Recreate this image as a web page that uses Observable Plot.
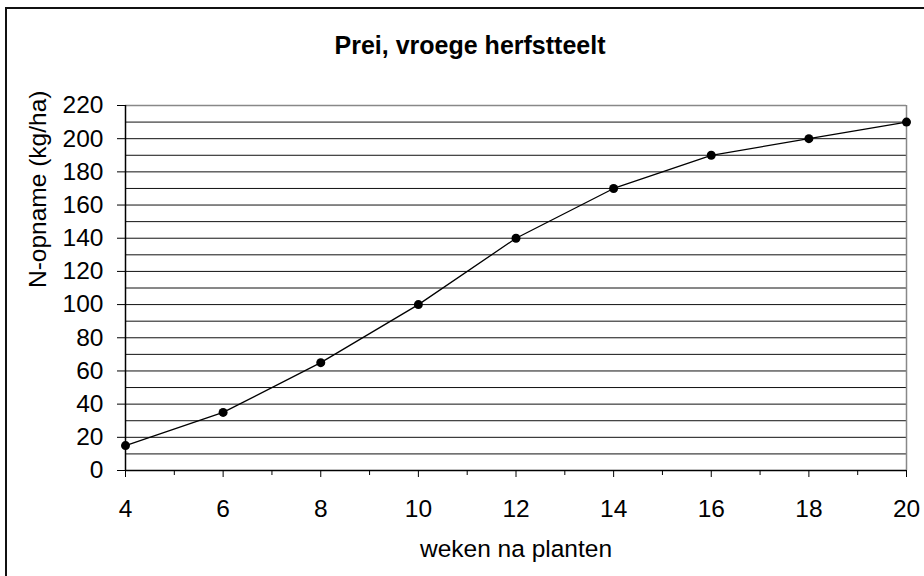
<!DOCTYPE html>
<html>
<head>
<meta charset="utf-8">
<script src="https://cdn.jsdelivr.net/npm/d3@7"></script>
<script src="https://cdn.jsdelivr.net/npm/@observablehq/plot@0.6"></script>
<style>
  html, body { margin: 0; padding: 0; background: #fff; }
  #wrap { position: relative; width: 924px; height: 576px; overflow: hidden; }
  #frame { position: absolute; left: 5px; top: 7px; width: 940px; height: 600px;
           border-top: 2px solid #111; border-left: 2px solid #111; pointer-events: none; }
  #chart { position: absolute; left: 0; top: 0; }
</style>
</head>
<body>
<div id="wrap"><div id="chart"></div><div id="frame"></div></div>
<script>
const title = "Prei, vroege herfstteelt";
const xLabel = "weken na planten";
const yLabel = "N-opname (kg/ha)";
const weeks = [4, 6, 8, 10, 12, 14, 16, 18, 20];
const uptake = [15, 35, 65, 100, 140, 170, 190, 200, 210];
const majorXTicks = [4, 6, 8, 10, 12, 14, 16, 18, 20];
const minorXTicks = [5, 7, 9, 11, 13, 15, 17, 19];
const yTicks = [0, 20, 40, 60, 80, 100, 120, 140, 160, 180, 200, 220];
const gridValues = [10, 20, 30, 40, 50, 60, 70, 80, 90, 100, 110, 120, 130, 140, 150, 160, 170, 180, 190, 200, 210];

const data = weeks.map((w, i) => ({week: w, n: uptake[i]}));
const font = "'Liberation Sans', Arial, sans-serif";

const chart = Plot.plot({
  width: 924,
  height: 576,
  marginLeft: 125,
  marginRight: 18,
  marginTop: 105,
  marginBottom: 106,
  style: {fontFamily: font, fontSize: "24.5px", color: "#000", background: "transparent"},
  x: {domain: [4, 20]},
  y: {domain: [0, 220]},
  marks: [
    Plot.ruleY(gridValues, {stroke: "#111", strokeWidth: 1}),
    Plot.ruleY([220], {stroke: "#888", strokeWidth: 1.5}),
    Plot.ruleX([20], {stroke: "#888", strokeWidth: 1.5}),
    Plot.axisY({ticks: yTicks, tickSize: 8, tickPadding: 14, label: null, fontSize: 24.5, stroke: "#000"}),
    Plot.axisX({ticks: minorXTicks, tickSize: 5, tickFormat: () => "", label: null}),
    Plot.axisX({ticks: majorXTicks, tickSize: 7, tickPadding: 22, label: null, fontSize: 24.5}),
    Plot.ruleX([4], {stroke: "#000", strokeWidth: 1.5}),
    Plot.ruleY([0], {stroke: "#000", strokeWidth: 1.5}),
    Plot.line(data, {x: "week", y: "n", stroke: "#000", strokeWidth: 1.3, curve: "linear"}),
    Plot.dot(data, {x: "week", y: "n", r: 4.5, fill: "#000", stroke: "none"}),
    Plot.text([title], {text: d => d, frameAnchor: "top", dx: -46, dy: -69, fontWeight: "bold", fontSize: 25, fill: "#000"}),
    Plot.text([yLabel], {text: d => d, frameAnchor: "left", rotate: -90, dx: -87, fontSize: 24.5, fill: "#000"}),
    Plot.text([xLabel], {text: d => d, frameAnchor: "bottom", dy: 86, fontSize: 24.5, fill: "#000"})
  ]
});
document.getElementById("chart").appendChild(chart);
</script>
</body>
</html>
